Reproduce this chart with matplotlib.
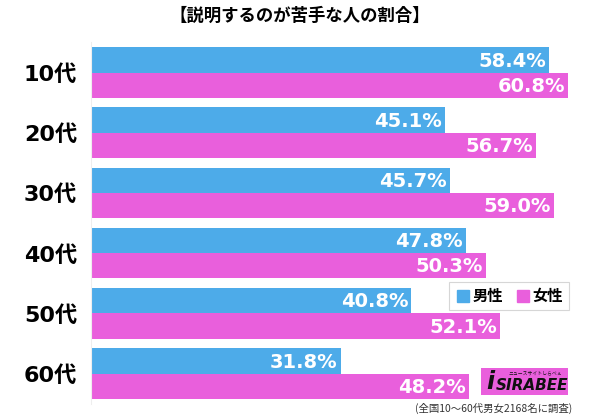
import matplotlib.pyplot as plt
from matplotlib.patches import Rectangle
from matplotlib.lines import Line2D

plt.rcParams['font.family'] = ['Noto Sans CJK JP', 'DejaVu Sans']

# data
ages = ["10代", "20代", "30代", "40代", "50代", "60代"]
male = [58.4, 45.1, 45.7, 47.8, 40.8, 31.8]
female = [60.8, 56.7, 59.0, 50.3, 52.1, 48.2]
series_names = ["男性", "女性"]
title = "【説明するのが苦手な人の割合】"
note = "(全国10～60代男女2168名に調査)"

BLUE = "#4dabe9"
PINK = "#e95fdc"

W, H = 600, 417
fig = plt.figure(figsize=(W / 100, H / 100), dpi=100)
fig.patch.set_facecolor("white")

# axes placed in pixel terms
left_px, right_px = 91, 600
top_px, bot_px = 42.4, 403.6
ax = fig.add_axes([left_px / W, 1 - bot_px / H, (right_px - left_px) / W, (bot_px - top_px) / H])

bh = 0.42
ys = list(range(len(ages)))
ax.barh([y - bh / 2 for y in ys], male, height=bh, color=BLUE, label=series_names[0])
ax.barh([y + bh / 2 for y in ys], female, height=bh, color=PINK, label=series_names[1])

num_font = ['DejaVu Sans', 'Noto Sans CJK JP']
for y, m, f in zip(ys, male, female):
    ax.text(m - 0.4, y - bh / 2 + 0.02, f"{m:.1f}%", ha="right", va="center",
            color="white", fontsize=14, fontweight="bold", family=num_font)
    ax.text(f - 0.4, y + bh / 2 + 0.02, f"{f:.1f}%", ha="right", va="center",
            color="white", fontsize=14, fontweight="bold", family=num_font)

ax.set_xlim(0, (right_px - left_px) / 7.85)
ax.set_ylim(len(ages) - 0.5, -0.5)
ax.set_yticks(ys)
ax.set_yticklabels(ages, fontsize=16, fontweight="bold", family=num_font)
ax.tick_params(axis="y", length=0, pad=10)
ax.set_xticks([])
for s in ["top", "right", "bottom"]:
    ax.spines[s].set_visible(False)
ax.spines["left"].set_color("#eeeeee")

fig.text(0.5, 1 - 16 / H, title, ha="center", va="center", fontsize=12.5, fontweight="bold")

handles = [Line2D([], [], marker="s", linestyle="", markersize=8, color=BLUE),
           Line2D([], [], marker="s", linestyle="", markersize=8, color=PINK)]
leg = fig.legend(handles, series_names, loc="center", ncol=2,
                 bbox_to_anchor=(509 / W, 1 - 296 / H), frameon=True, fancybox=False,
                 handletextpad=0.1, columnspacing=0.8, handlelength=1.0,
                 prop={"weight": "bold", "size": 11})
leg.get_frame().set_edgecolor("#cccccc")
leg.get_frame().set_linewidth(0.8)

# logo box
fig.patches.append(Rectangle((481 / W, 1 - 395 / H), 87 / W, 27 / H, transform=fig.transFigure,
                             facecolor=PINK, edgecolor="none"))
fig.text(490 / W, 1 - 382 / H, "i", ha="center", va="center", fontsize=17,
         fontweight="bold", fontstyle="italic", color="#111111", family="DejaVu Sans")
fig.text(532 / W, 1 - 385 / H, "SIRABEE", ha="center", va="center", fontsize=11,
         fontweight="bold", fontstyle="italic", color="#111111", family="DejaVu Sans")
fig.text(535 / W, 1 - 373 / H, "ニュースサイトしらべぇ", ha="center", va="center", fontsize=3.5,
         color="#111111")

fig.text(572 / W, 1 - 408 / H, note, ha="right", va="center", fontsize=7.5, color="#333333")

fig.savefig("out.png", dpi=100)
